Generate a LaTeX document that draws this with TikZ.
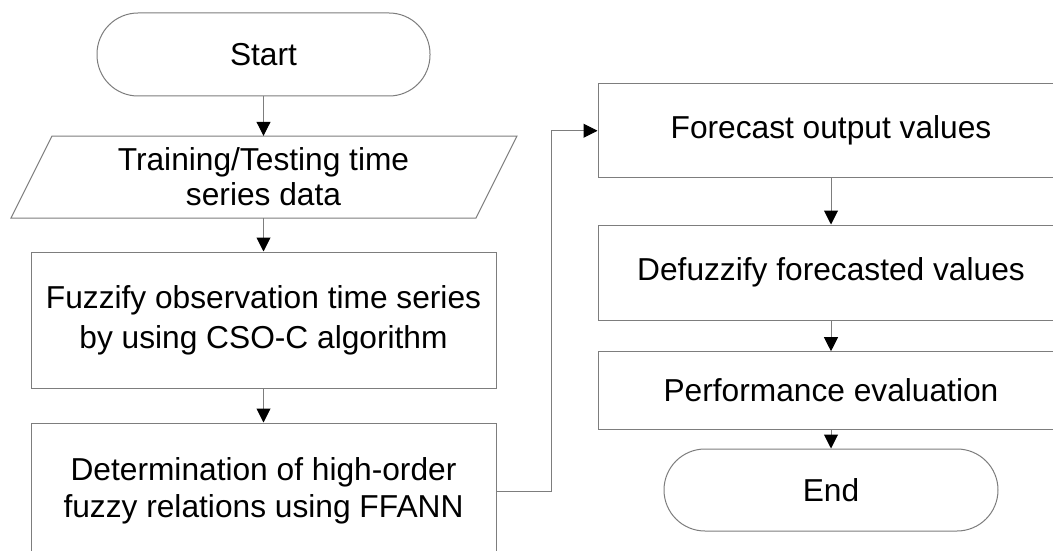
\documentclass[tikz,border=0pt]{standalone}
\usepackage{fontspec}
\setmainfont{Liberation Sans}
\usetikzlibrary{arrows.meta}
\definecolor{linegray}{RGB}{125,125,125}
\begin{document}
\begin{tikzpicture}[x=1pt,y=-1pt,
  every node/.style={font=\fontsize{31.7}{37}\selectfont, align=center, inner sep=0pt},
  box/.style={draw=linegray, line width=1pt, minimum width=465pt},
  term/.style={draw=linegray, line width=1pt, rounded corners=41pt, minimum width=333pt, minimum height=83pt},
  conn/.style={draw=linegray, line width=1pt, -{Triangle[length=14pt,width=14pt,color=black]}},
]
\clip (0,0) rectangle (1053,551);
\fill[white] (0,0) rectangle (1053,551);

% left column
\node[term] (start) at (263.5,54.5) {Start};
\node[minimum width=420pt, minimum height=82pt, font=\fontsize{31.7}{35}\selectfont] (data) at (263.5,177) {Training/Testing time\\series data};
\draw[linegray, line width=1pt] (52,136) -- (517,136) -- (476,218) -- (11,218) -- cycle;
\node[box, minimum height=136pt, font=\fontsize{31.7}{40}\selectfont] (fuzz) at (263.5,320) {Fuzzify observation time series\\by using CSO-C algorithm};
\node[box, minimum height=136pt] (det) at (263.5,491) {Determination of high-order\\fuzzy relations using FFANN};

% right column
\node[box, minimum width=466pt, minimum height=93.5pt] (fore) at (831,130.75) {Forecast output values};
\node[box, minimum width=466pt, minimum height=95pt] (defz) at (831,272.5) {Defuzzify forecasted values};
\node[box, minimum width=466pt, minimum height=77.6pt] (perf) at (831,390.5) {Performance evaluation};
\node[term, minimum width=334pt, minimum height=82pt] (end) at (831,490) {End};

% connectors
\draw[conn] (start) -- (data);
\draw[conn] (data) -- (fuzz);
\draw[conn] (fuzz) -- (det);
\draw[conn] (det.east) -- ++(55,0) |- (fore.west);
\draw[conn] (fore) -- (defz);
\draw[conn] (defz) -- (perf);
\draw[conn] (perf) -- (end);
\end{tikzpicture}
\end{document}
